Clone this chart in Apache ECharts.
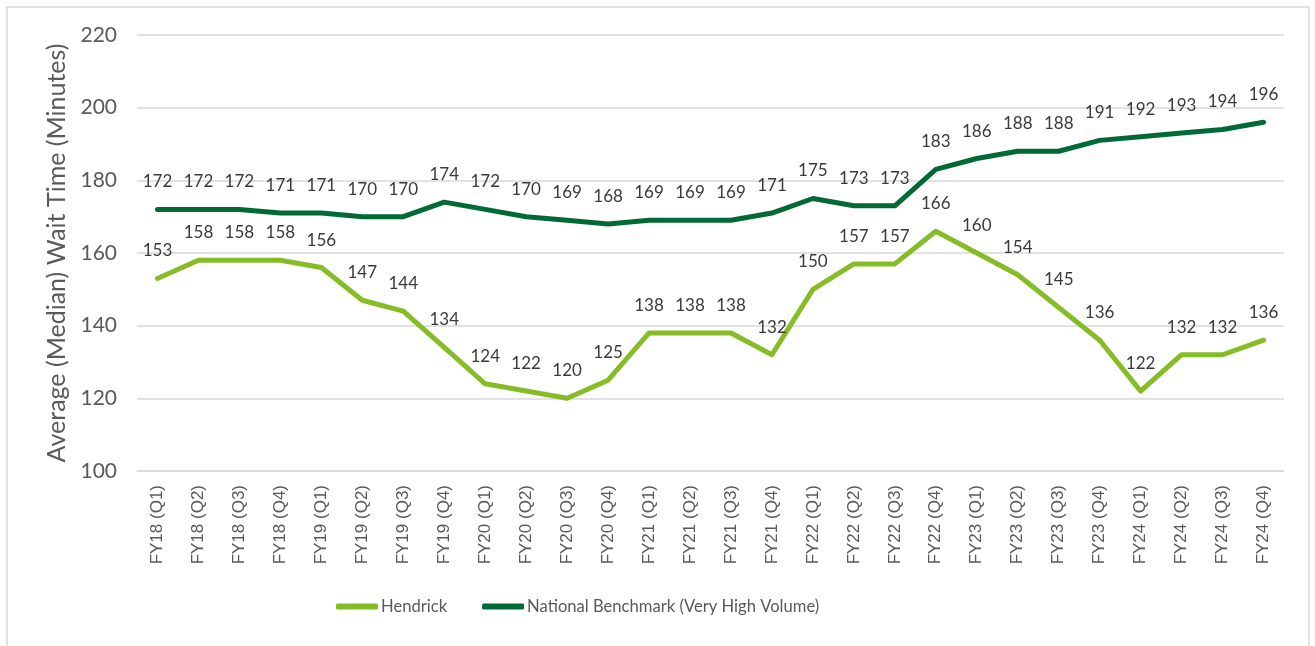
<!DOCTYPE html>
<html>
<head>
<meta charset="utf-8">
<script src="https://cdn.jsdelivr.net/npm/echarts@6/dist/echarts.min.js"></script>
<style>
html,body{margin:0;padding:0;background:#fff;}
#chart{width:1315px;height:646px;}
</style>
</head>
<body>
<div id="chart"></div>
<script>
const categories = ["FY18 (Q1)","FY18 (Q2)","FY18 (Q3)","FY18 (Q4)","FY19 (Q1)","FY19 (Q2)","FY19 (Q3)","FY19 (Q4)","FY20 (Q1)","FY20 (Q2)","FY20 (Q3)","FY20 (Q4)","FY21 (Q1)","FY21 (Q2)","FY21 (Q3)","FY21 (Q4)","FY22 (Q1)","FY22 (Q2)","FY22 (Q3)","FY22 (Q4)","FY23 (Q1)","FY23 (Q2)","FY23 (Q3)","FY23 (Q4)","FY24 (Q1)","FY24 (Q2)","FY24 (Q3)","FY24 (Q4)"];
const hendrick = [153,158,158,158,156,147,144,134,124,122,120,125,138,138,138,132,150,157,157,166,160,154,145,136,122,132,132,136];
const national = [172,172,172,171,171,170,170,174,172,170,169,168,169,169,169,171,175,173,173,183,186,188,188,191,192,193,194,196];
const yTicks = [100,120,140,160,180,200,220];

const FONT = 'Lato';
const chart = echarts.init(document.getElementById('chart'));
function lineSeries(name, data, color) {
  return {
    name: name, type: 'line', data: data,
    symbol: 'circle', symbolSize: 0,
    lineStyle: {color: color, width: 5, cap: 'round', join: 'round'},
    itemStyle: {color: color},
    label: {show: true, position: 'top', distance: 19, color: '#3a3a3a', fontFamily: FONT, fontSize: 17},
    emphasis: {disabled: true},
    animation: false
  };
}
chart.setOption({
  animation: false,
  graphic: [{type: 'rect', shape: {x: 7, y: 7, width: 1302, height: 680}, style: {fill: 'none', stroke: '#d9d9d9', lineWidth: 1.5}, silent: true}],
  grid: {left: 137, right: 31, top: 35, bottom: 175},
  legend: {
    bottom: 26, left: 331,
    itemWidth: 42, itemHeight: 6, itemGap: 35,
    icon: 'roundRect',
    textStyle: {fontFamily: FONT, fontSize: 16.6, color: '#595959', padding: [0,0,0,-2]},
    data: ['Hendrick', 'National Benchmark (Very High Volume)']
  },
  xAxis: {
    type: 'category', data: categories, boundaryGap: true,
    axisLine: {lineStyle: {color: '#d9d9d9', width: 1.5}},
    axisTick: {show: false},
    axisLabel: {rotate: 90, interval: 0, margin: 14, fontFamily: 'Liberation Sans', fontSize: 17, color: '#595959'}
  },
  yAxis: {
    type: 'value', min: yTicks[0], max: yTicks[yTicks.length-1], interval: 20,
    name: 'Average (Median) Wait Time (Minutes)', nameLocation: 'middle', nameGap: 66,
    nameTextStyle: {fontFamily: FONT, fontSize: 25, color: '#595959'},
    axisLine: {show: false}, axisTick: {show: false},
    axisLabel: {margin: 20, fontFamily: FONT, fontSize: 21, color: '#595959'},
    splitLine: {lineStyle: {color: '#d9d9d9', width: 1.5}}
  },
  series: [
    lineSeries('Hendrick', hendrick, '#86bc25'),
    lineSeries('National Benchmark (Very High Volume)', national, '#006a36')
  ]
});
</script>
</body>
</html>
